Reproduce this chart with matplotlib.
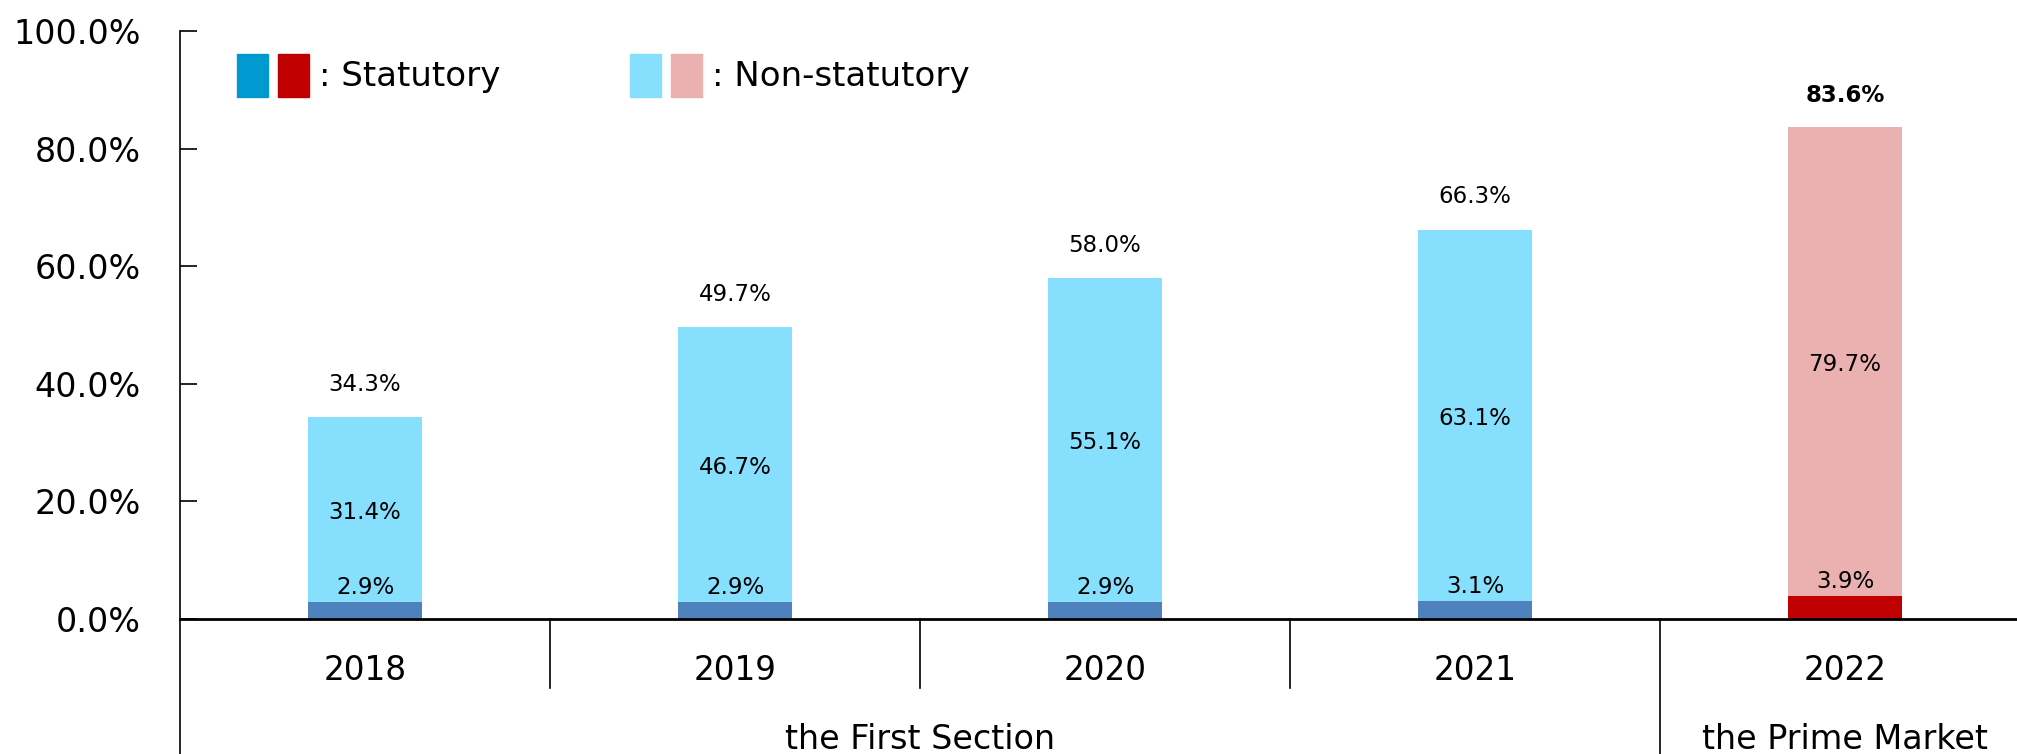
import matplotlib
matplotlib.use("Agg")
import matplotlib.pyplot as plt
from matplotlib.patches import Patch
from matplotlib.legend_handler import HandlerTuple
import numpy as np

# ---------------------------------------------------------------------------
# Data
# ---------------------------------------------------------------------------
years = ["2018", "2019", "2020", "2021", "2022"]
statutory = [2.9, 2.9, 2.9, 3.1, 3.9]
non_statutory = [31.4, 46.7, 55.1, 63.1, 79.7]
totals = [34.3, 49.7, 58.0, 66.3, 83.6]
groups = [("the First Section", 0, 3), ("the Prime Market", 4, 4)]
yticks = [0, 20, 40, 60, 80, 100]

# colours: First Section years blue, Prime Market year red
STAT_COLORS = ["#4F81BD"] * 4 + ["#C00000"]
NONSTAT_COLORS = ["#87DFFE"] * 4 + ["#EBB1B1"]
LEG_STAT = ("#0099D0", "#C00000")
LEG_NONSTAT = ("#87DFFE", "#EBB1B1")

FS_TICK = 24
FS_YEAR = 23.5
FS_GROUP = 24
FS_LEGEND = 24.5
FS_VALUE = 16.5

W, H, DPI = 2017, 754, 100
fig = plt.figure(figsize=(W / DPI, H / DPI), dpi=DPI)
ax = fig.add_axes([180 / W, (H - 619) / H, 1850 / W, 588 / H])

x = np.arange(len(years))
width = 0.31
ax.bar(x, statutory, width, color=STAT_COLORS, linewidth=0)
ax.bar(x, non_statutory, width, bottom=statutory, color=NONSTAT_COLORS, linewidth=0)

ax.set_xlim(-0.5, len(years) - 0.5)
ax.set_ylim(0, 100)
ax.set_yticks(yticks)
ax.set_yticklabels([f"{v:.1f}%" for v in yticks], fontsize=FS_TICK)
ax.tick_params(axis="y", direction="in", length=12, width=1.2, pad=28)
ax.set_xticks([])

for s in ("top", "right"):
    ax.spines[s].set_visible(False)
ax.spines["bottom"].set_linewidth(2)
ax.spines["left"].set_linewidth(1.2)
ax.spines["left"].set_bounds(-23, 100)

# value labels
for i in range(len(years)):
    ax.text(x[i], statutory[i] + 0.5, f"{statutory[i]:.1f}%", ha="center",
            va="bottom", fontsize=FS_VALUE)
    ax.text(x[i], statutory[i] + non_statutory[i] / 2 - 0.5, f"{non_statutory[i]:.1f}%",
            ha="center", va="center", fontsize=FS_VALUE)
    ax.text(x[i], totals[i] + 5.5, f"{totals[i]:.1f}%", ha="center", va="center",
            fontsize=FS_VALUE, fontweight="bold" if i == len(years) - 1 else "normal")

# category axis below: years, separators, groups
for i, yr in enumerate(years):
    ax.text(x[i], -8.7, yr, ha="center", va="center", fontsize=FS_YEAR)
for i in range(1, len(years)):
    is_group_edge = any(start == i for _, start, _ in groups)
    y_end = -23 if is_group_edge else -11.7
    ax.plot([i - 0.5, i - 0.5], [0, y_end], color="black", lw=1.2, clip_on=False)
for name, start, end in groups:
    ax.text((start + end) / 2, -20.5, name, ha="center", va="center", fontsize=FS_GROUP)

# legend
handles = [
    (Patch(color=LEG_STAT[0]), Patch(color=LEG_STAT[1])),
    (Patch(color=LEG_NONSTAT[0]), Patch(color=LEG_NONSTAT[1])),
]
fig.legend(handles, [": Statutory", ": Non-statutory"],
           handler_map={tuple: HandlerTuple(ndivide=None, pad=0.3)},
           loc="upper left", bbox_to_anchor=(237 / W, 1 - 54 / H),
           ncol=2, frameon=False, fontsize=FS_LEGEND, borderpad=0,
           borderaxespad=0, handlelength=2.12, handleheight=1.55,
           handletextpad=0.3, columnspacing=3.8)

fig.savefig("out.png", dpi=DPI)
